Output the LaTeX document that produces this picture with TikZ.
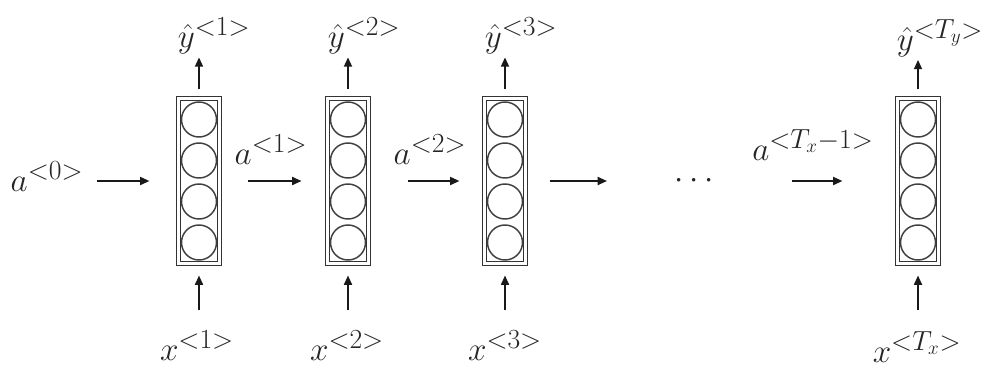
\documentclass[tikz,border=0pt]{standalone}
\usepackage{amsmath}
\usetikzlibrary{arrows.meta}

\begin{document}
\begin{tikzpicture}[x=0.75pt,y=-0.75pt,
  cell/.style={draw=black!80,line width=0.8pt,double=white,double distance=1.6pt,
               minimum width=30.75pt,minimum height=123.75pt,inner sep=0pt},
  unit/.style={draw=black!75,line width=1.1pt},
  lbl/.style={inner sep=0pt,text=black!85,font=\fontsize{28}{32}\selectfont},
  ar/.style={-{Triangle[length=7pt,width=6pt]},line width=1.3pt,black!90},
  up/.style={ar,shorten <=6.4pt,shorten >=2.2pt},
  dn/.style={ar,shorten <=15.8pt,shorten >=8.6pt}
]
\useasboundingbox (0,0) rectangle (987,365);
% cells with their four units
\foreach \n/\x in {1/199,2/348,3/505,4/918}{
  \node[cell] (c\n) at (\x,181) {};
  \foreach \k in {0,1,2,3}
    \draw[unit] (\x,{119.5+41*\k}) circle[radius=17.5];
}
% outputs and inputs
\node[lbl] (y1) at (214,36) {$\hat{y}^{<1>}$};
\node[lbl] (y2) at (364,36) {$\hat{y}^{<2>}$};
\node[lbl] (y3) at (521,36) {$\hat{y}^{<3>}$};
\node[lbl] (y4) at (940,38) {$\hat{y}^{<T_y>}$};
\node[lbl] (x1) at (197,346) {$x^{<1>}$};
\node[lbl] (x2) at (347,346) {$x^{<2>}$};
\node[lbl] (x3) at (505,346) {$x^{<3>}$};
\node[lbl] (x4) at (917,347) {$x^{<T_x>}$};
\foreach \n in {1,...,4}{
  \draw[up] (c\n.north) -- (c\n.north |- y\n.south);
  \draw[dn] (x\n.north -| c\n.south) -- (c\n.south);
}
% activations
\node[lbl] (a0) at (47,177) {$a^{<0>}$};
\node[lbl] (a1) at (271,150) {$a^{<1>}$};
\node[lbl] (a2) at (430,150) {$a^{<2>}$};
\node[lbl] (a3) at (813,145) {$a^{<T_x-1>}$};
\node[lbl] (dots) at (697,181) {$\cdots$};
\coordinate (s0) at (97,181);
\draw[ar,shorten >=21.4pt] (s0) -- (c1.west);
\draw[ar,shorten <=20.6pt,shorten >=19.1pt] (c1.east) -- (c2.west);
\draw[ar,shorten <=28.9pt,shorten >=18.4pt] (c2.east) -- (c3.west);
\draw[ar,shorten <=17.6pt,shorten >=67.5pt] (c3.east) -- (dots.center);
\draw[ar,shorten <=71.3pt,shorten >=40.9pt] (dots.center) -- (c4.west);
\end{tikzpicture}
\end{document}
